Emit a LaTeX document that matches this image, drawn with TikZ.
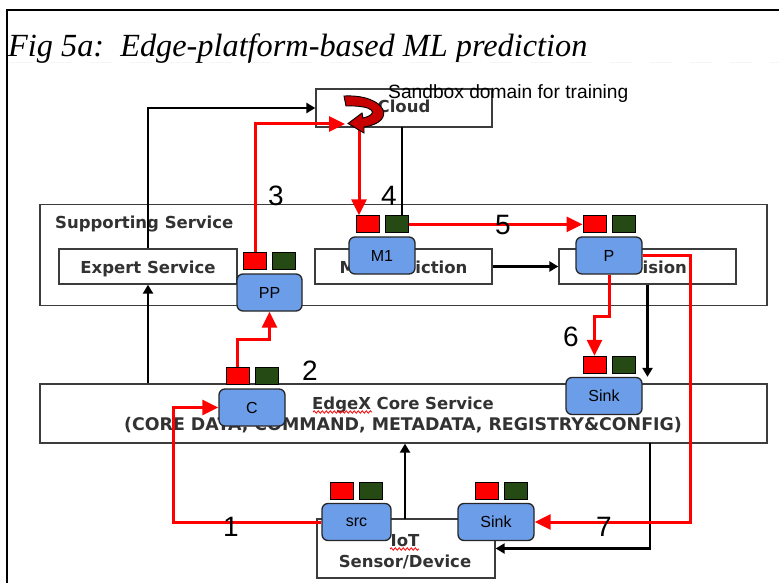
\documentclass[tikz,border=0pt]{standalone}
\usepackage{fontspec}
\setmainfont{Liberation Serif}
\newfontfamily\boxfont{DejaVu Sans}
\newfontfamily\arialfont{Liberation Sans}
\usetikzlibrary{arrows.meta,decorations.pathmorphing}
\definecolor{nodeblue}{RGB}{108,157,232}
\definecolor{sqgreen}{RGB}{38,74,20}
\definecolor{boxgray}{RGB}{60,60,60}
\definecolor{labelgray}{RGB}{50,50,50}
\definecolor{curlred}{RGB}{200,0,0}
\pgfdeclarelayer{bg}
\pgfsetlayers{bg,main}
\tikzset{
  svcbox/.style={draw=boxgray, line width=1.3pt, fill=white, inner sep=0pt},
  svclabel/.style={font=\boxfont\bfseries\fontsize{16.5}{18}\selectfont, text=labelgray, inner sep=0pt},
  module/.style={draw=black!85, fill=nodeblue, rounded corners=6pt, line width=1.3pt,
    inner sep=0pt, minimum height=37pt, font=\arialfont\fontsize{16}{16}\selectfont},
  redsq/.style={draw=black, fill=red, line width=1pt, minimum width=23pt, minimum height=17pt, inner sep=0pt},
  greensq/.style={draw=black, fill=sqgreen, line width=1pt, minimum width=23pt, minimum height=17pt, inner sep=0pt},
  redflow/.style={draw=red, line width=3pt, -{Triangle[length=16pt,width=15pt]}},
  blackflow/.style={draw=black, line width=2.6pt, -{Triangle[length=9pt,width=10pt]}},
  blackplain/.style={draw=black, line width=2.6pt},
  stepnum/.style={font=\arialfont\fontsize{28}{28}\selectfont, inner sep=0pt},
  squiggle/.style={draw=red, line width=0.8pt, decorate,
    decoration={snake, amplitude=1.2pt, segment length=4pt}}
}
\begin{document}
\begin{tikzpicture}[x=1pt,y=-1pt]
\useasboundingbox (0,0) rectangle (779,583);

\begin{pgfonlayer}{bg}
\fill[white] (0,0) rectangle (779,583);
% outer frame and title
\draw[line width=2.4pt] (7,583) -- (7,10) -- (779,10);
\node[anchor=base west, inner sep=0pt, font=\itshape\fontsize{32.3}{32}\selectfont] (title) at (8,57)
  {Fig 5a:\ \ Edge-platform-based ML prediction};
\draw[black!4, line width=0.6pt, dash pattern=on 22pt off 18pt] (10,62) -- (779,62);

% service boxes
\node[svcbox, minimum width=176pt, minimum height=38pt] (cloud) at (404,108) {};
\node[svcbox, minimum width=727pt, minimum height=101pt] (supp) at (403.5,255) {};
\node[svcbox, minimum width=178pt, minimum height=35pt] (expert) at (148,266.5) {};
\node[svcbox, minimum width=177pt, minimum height=35pt] (mlpred) at (403.5,266.5) {};
\node[svcbox, minimum width=177pt, minimum height=35pt] (decision) at (647.5,266.5) {};
\node[svcbox, minimum width=727pt, minimum height=59pt] (core) at (403.5,413.5) {};
\node[svcbox, minimum width=178pt, minimum height=59pt] (iot) at (406,548.5) {};

% service labels
\node[svclabel, anchor=base] (cloudtxt) at (404,113) {Cloud};
\node[svclabel, anchor=base west] (supptxt) at (55,228) {Supporting Service};
\node[svclabel, anchor=base] (experttxt) at (148,273) {Expert Service};
\node[svclabel, anchor=base] (mltxt) at (403.5,273) {ML Prediction};
\node[svclabel, anchor=base] (dectxt) at (647.5,273) {Decision};
\node[svclabel, anchor=base] (coretxt) at (403,409) {EdgeX Core Service};
\node[svclabel, anchor=base, font=\boxfont\bfseries\fontsize{17.4}{18}\selectfont] (coresub) at (403,430)
  {(CORE DATA, COMMAND, METADATA, REGISTRY\&CONFIG)};
\node[svclabel, anchor=base] (iottxt) at (405,546) {IoT};
\node[svclabel, anchor=base] (iotsub) at (405,567) {Sensor/Device};
\draw[squiggle] (313,412) -- (372,412);
\draw[squiggle] (390,549) -- (419,549);
\node[anchor=base west, inner sep=0pt, font=\arialfont\fontsize{19.2}{19.2}\selectfont] (sandbox) at (388,99)
  {Sandbox domain for training};
\end{pgfonlayer}

% processing modules
\node[module, minimum width=65pt] (PP) at (269.5,292.5) {PP};
\node[module, minimum width=66pt] (C) at (252,407.5) {C};
\node[module, minimum width=66pt] (M1) at (382,255.5) {M1};
\node[module, minimum width=66pt] (P) at (609,255.5) {P};
\node[module, minimum width=76pt] (SinkA) at (604,396) {Sink};
\node[module, minimum width=69pt] (src) at (356.5,522) {src};
\node[module, minimum width=76pt] (SinkB) at (496,522) {Sink};

% input / output ports above each module (named <module>-in / <module>-out)
\foreach \m/\dx in {PP/0, C/0, M1/0, P/0, SinkA/5, src/0, SinkB/5}{
  \node[redsq] (\m-in) at ([xshift=\dx pt-14.5pt, yshift=12pt]\m.north) {};
  \node[greensq] (\m-out) at ([xshift=\dx pt+14.5pt, yshift=12pt]\m.north) {};
}

% control flow between services
\draw[blackflow] (expert.north) |- (cloud.west);
\draw[blackflow] (expert.south |- core.north) -- (expert.south);
\coordinate (cloudfoot) at (402,127);
\draw[blackplain] (cloudfoot) -- (cloudfoot |- M1-out.north);
\draw[blackflow] (mlpred.east) -- (decision.west);
\draw[blackflow] (decision.south) -- (decision.south |- SinkA.north);
\coordinate (iottop) at (405,519);
\draw[blackflow] (iottop) -- (iottop |- core.south);
\coordinate (coreout) at (650,443);
\draw[blackflow] (coreout) |- (iot.east);

% data flow, steps 1 to 7
\coordinate (cloudin) at (345,124);
\coordinate (cloudout) at (359,128);
\draw[redflow] (src.west) -- ++(-148,0) |- (C.west);
\draw[redflow] (C-in.north) -- ++(0,-28) -| (PP.south);
\draw[redflow] (PP-in.north) |- (cloudin);
\draw[redflow] (cloudout) -- (cloudout |- M1-in.north);
\draw[redflow] (M1-out.east) -- (P-in.west);
\draw[redflow] (P.south) -- ++(0,42) -| (SinkA-in.north);
\draw[redflow] (P.east) -- ++(48,0) |- (SinkB.east);

% training loop inside the sandbox
\filldraw[fill=curlred, draw=black, line width=0.9pt]
  (344,96) .. controls (386,94) and (398,122) .. (364,127)
  -- (364,133) -- (348,123.5) -- (362,113) -- (363,118)
  .. controls (380,114) and (374,105) .. (346,106) -- cycle;

% step numbers
\node[stepnum] (n1) at (231,527) {1};
\node[stepnum] (n2) at (310,371) {2};
\node[stepnum] (n3) at (276,196) {3};
\node[stepnum] (n4) at (389,196) {4};
\node[stepnum] (n5) at (503,225) {5};
\node[stepnum] (n6) at (571,337) {6};
\node[stepnum] (n7) at (604,527) {7};
\end{tikzpicture}
\end{document}
